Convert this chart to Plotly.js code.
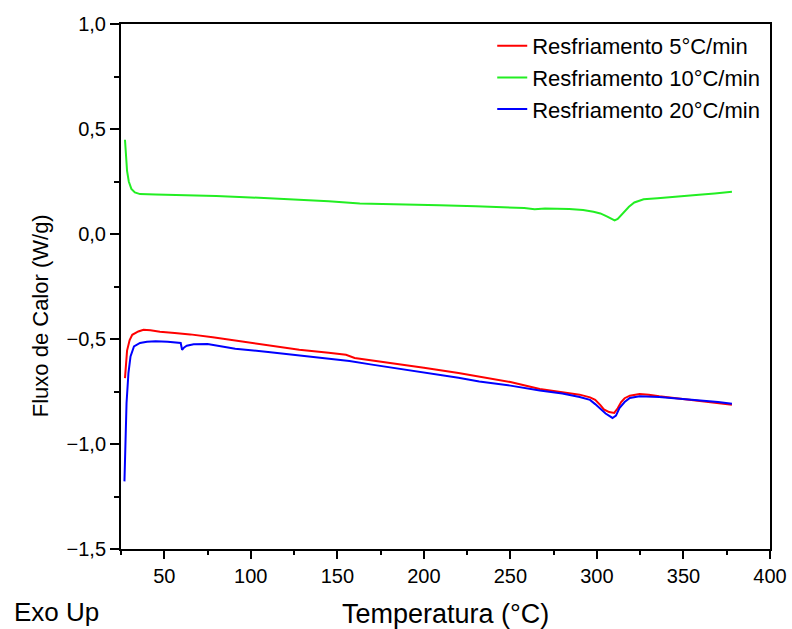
<!DOCTYPE html>
<html>
<head>
<meta charset="utf-8">
<script src="https://cdn.plot.ly/plotly-3.0.1.min.js"></script>
<style>
  html, body { margin: 0; padding: 0; background: #ffffff; }
  #chart { width: 792px; height: 629px; }
</style>
</head>
<body>
<div id="chart"></div>
<script>
// DSC cooling curves: heat flow (W/g) versus temperature (°C)
const seriesNames = ["Resfriamento 5°C/min", "Resfriamento 10°C/min", "Resfriamento 20°C/min"];

// Resfriamento 5°C/min
const temp5 = [27.3, 27.8, 28.5, 30, 31.5, 35, 38, 42, 47.5, 56, 65, 78, 91, 110, 128, 145, 155, 160, 180, 200, 220, 232, 250, 267, 280, 290, 296, 299, 302, 304, 307, 310, 312, 314, 316, 319, 324.6, 330, 336, 348, 359, 370, 378];
const flux5 = [-0.686, -0.62, -0.555, -0.505, -0.480, -0.464, -0.456, -0.458, -0.465, -0.471, -0.478, -0.492, -0.508, -0.530, -0.551, -0.566, -0.575, -0.590, -0.612, -0.637, -0.662, -0.678, -0.705, -0.738, -0.753, -0.765, -0.778, -0.790, -0.815, -0.835, -0.848, -0.852, -0.830, -0.800, -0.782, -0.770, -0.762, -0.765, -0.773, -0.784, -0.794, -0.805, -0.813];

// Resfriamento 10°C/min
const temp10 = [27.3, 27.8, 28.5, 29.5, 31, 33, 36, 45, 60, 80, 100, 128, 145, 163, 185, 209, 230, 244, 258, 264, 270, 284, 292, 298, 302, 306, 308.5, 310.2, 312, 314, 316, 318.5, 321.6, 327, 335, 342, 350, 359, 368, 378];
const flux10 = [0.449, 0.38, 0.30, 0.25, 0.215, 0.198, 0.190, 0.188, 0.186, 0.181, 0.174, 0.163, 0.156, 0.145, 0.142, 0.137, 0.132, 0.128, 0.124, 0.118, 0.122, 0.119, 0.114, 0.106, 0.098, 0.083, 0.072, 0.065, 0.072, 0.090, 0.108, 0.130, 0.150, 0.165, 0.170, 0.174, 0.180, 0.187, 0.193, 0.201];

// Resfriamento 20°C/min
const temp20 = [27.0, 27.3, 27.6, 28.2, 29.3, 30.5, 32.5, 36, 40, 45, 52, 59.5, 60.3, 61.5, 63, 67, 75, 91, 110, 128, 145, 157, 170, 185, 200, 220, 232, 250, 267, 280, 290, 296, 299, 302, 305, 309, 311, 313, 316, 319, 324.6, 336, 348, 359, 370, 378];
const flux20 = [-1.178, -1.10, -0.956, -0.805, -0.662, -0.583, -0.535, -0.519, -0.513, -0.511, -0.513, -0.519, -0.551, -0.540, -0.532, -0.525, -0.524, -0.546, -0.562, -0.578, -0.592, -0.605, -0.622, -0.640, -0.660, -0.685, -0.702, -0.722, -0.745, -0.760, -0.776, -0.790, -0.810, -0.835, -0.855, -0.876, -0.865, -0.829, -0.800, -0.781, -0.773, -0.776, -0.784, -0.792, -0.800, -0.808];

const xTicks = [50, 100, 150, 200, 250, 300, 350, 400];
const yTicks = [-1.5, -1.0, -0.5, 0.0, 0.5, 1.0];

const colors = ["#ff0000", "#22ee22", "#0000ff"];
const xs = [temp5, temp10, temp20];
const ys = [flux5, flux10, flux20];

const traces = seriesNames.map((name, i) => ({
  x: xs[i],
  y: ys[i],
  name: name,
  type: "scatter",
  mode: "lines",
  line: { color: colors[i], width: 2 }
}));

const font = "Liberation Sans, Arial, sans-serif";

const layout = {
  width: 792,
  height: 629,
  paper_bgcolor: "#ffffff",
  plot_bgcolor: "#ffffff",
  separators: ",.",
  margin: { l: 121, r: 22, t: 24, b: 80 },
  font: { family: font, color: "#000000", size: 20 },
  showlegend: true,
  legend: {
    x: 0.572, y: 0.998, xanchor: "left", yanchor: "top",
    bgcolor: "rgba(0,0,0,0)",
    font: { family: font, size: 22, color: "#000000" }
  },
  xaxis: {
    range: [25, 400],
    tickvals: xTicks,
    ticks: "outside", ticklen: 8, tickwidth: 2, tickcolor: "#000000",
    minor: { dtick: 25, tick0: 0, ticks: "outside", ticklen: 4, tickwidth: 2, tickcolor: "#000000" },
    showline: true, linewidth: 2, linecolor: "#000000", mirror: true,
    showgrid: false, zeroline: false,
    tickfont: { family: font, size: 20 }
  },
  yaxis: {
    range: [-1.5, 1.0],
    tickvals: yTicks,
    tickformat: ".1f",
    ticks: "outside", ticklen: 9, tickwidth: 2, tickcolor: "#000000",
    minor: { dtick: 0.25, tick0: 0, ticks: "outside", ticklen: 5, tickwidth: 2, tickcolor: "#000000" },
    showline: true, linewidth: 2, linecolor: "#000000", mirror: true,
    showgrid: false, zeroline: false,
    tickfont: { family: font, size: 20 }
  },
  annotations: [
    {
      text: "Fluxo de Calor (W/g)", textangle: -90,
      xref: "paper", yref: "paper", x: -0.125, y: 0.445,
      xanchor: "center", yanchor: "middle", showarrow: false,
      font: { family: font, size: 22, color: "#000000" }
    },
    {
      text: "Temperatura (°C)",
      xref: "paper", yref: "paper", x: 0.5, y: -0.124,
      xanchor: "center", yanchor: "middle", showarrow: false,
      font: { family: font, size: 27, color: "#000000" }
    },
    {
      text: "Exo Up",
      xref: "paper", yref: "paper", x: -0.10, y: -0.12,
      xanchor: "center", yanchor: "middle", showarrow: false,
      font: { family: font, size: 26, color: "#000000" }
    }
  ]
};

Plotly.newPlot("chart", traces, layout, { displayModeBar: false, staticPlot: true });
</script>
</body>
</html>
